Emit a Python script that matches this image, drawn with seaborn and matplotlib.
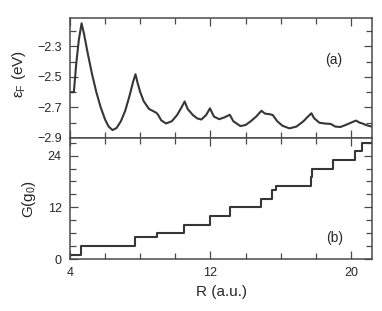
import numpy as np
import pandas as pd
import matplotlib
matplotlib.use('AGG')
import matplotlib.pyplot as plt
import seaborn as sns
from matplotlib.ticker import FixedLocator

# panel (a): Fermi energy vs R
r_eps = [4.0, 4.22, 4.35, 4.5, 4.66, 4.8, 5.0, 5.25, 5.5, 5.75, 6.0, 6.2, 6.42,
         6.65, 6.9, 7.15, 7.4, 7.6, 7.73, 7.85, 8.0, 8.2, 8.5, 8.9, 9.0, 9.2,
         9.47, 9.8, 10.1, 10.35, 10.53, 10.7, 11.0, 11.25, 11.48, 11.75, 11.97,
         12.2, 12.5, 12.8, 13.1, 13.3, 13.7, 14.0, 14.3, 14.6, 14.9, 15.1, 15.4,
         15.55, 15.8, 16.1, 16.5, 16.9, 17.3, 17.55, 17.75, 17.9, 18.2, 18.5,
         18.85, 19.1, 19.4, 19.8, 20.1, 20.29, 20.5, 20.66, 20.85, 21.2]
eps_f = [-2.60, -2.60, -2.42, -2.26, -2.15, -2.22, -2.34, -2.48, -2.60, -2.70,
         -2.78, -2.825, -2.848, -2.835, -2.79, -2.72, -2.62, -2.53, -2.483,
         -2.54, -2.60, -2.66, -2.71, -2.734, -2.745, -2.785, -2.805, -2.79,
         -2.75, -2.70, -2.661, -2.71, -2.75, -2.772, -2.779, -2.75, -2.706,
         -2.76, -2.777, -2.765, -2.748, -2.79, -2.822, -2.815, -2.79, -2.76,
         -2.722, -2.74, -2.745, -2.75, -2.79, -2.82, -2.837, -2.825, -2.79,
         -2.76, -2.738, -2.77, -2.80, -2.805, -2.808, -2.825, -2.828, -2.81,
         -2.795, -2.786, -2.80, -2.805, -2.815, -2.826]

# panel (b): conductance steps
r_g = [4.0, 4.63, 7.69, 8.98, 10.5, 12.0, 13.1, 14.9, 15.5, 15.75, 17.72,
       17.8, 18.96, 20.25, 20.65, 21.2]
g_vals = [1, 3, 5, 6, 8, 10, 12, 14, 16, 17, 19, 21, 23, 25, 27, 27]

sns.set_style('ticks')
plt.rcParams['font.family'] = ['Liberation Sans', 'DejaVu Sans']
plt.rcParams['mathtext.fontset'] = 'custom'
plt.rcParams['mathtext.rm'] = 'Liberation Sans'
plt.rcParams['mathtext.it'] = 'Liberation Sans'

linea = '#363636'
borde = '#4a4a4a'

fig = plt.figure(figsize=(3.82, 3.11), dpi=100)
W, H = 382, 311
ax1 = fig.add_axes([70 / W, (H - 138) / H, 302 / W, 120 / H])
ax2 = fig.add_axes([70 / W, (H - 259) / H, 302 / W, 121 / H], sharex=ax1)

datos_a = pd.DataFrame({'R': r_eps, 'E': eps_f})
datos_b = pd.DataFrame({'R': r_g, 'G': g_vals})

sns.lineplot(data=datos_a, x='R', y='E', ax=ax1, color=linea, lw=1.5)
sns.lineplot(data=datos_b, x='R', y='G', ax=ax2, color=linea, lw=1.5,
             drawstyle='steps-post')

ax1.set_xlim(4, 21.2)
ax1.set_ylim(-2.9, -2.115)
ax2.set_ylim(0, 28.1)

ax1.yaxis.set_major_locator(FixedLocator([-2.9, -2.7, -2.5, -2.3]))
ax1.yaxis.set_minor_locator(FixedLocator([-2.8, -2.6, -2.4, -2.2]))
ax2.yaxis.set_major_locator(FixedLocator([0, 12, 24]))
ax2.yaxis.set_minor_locator(FixedLocator([3, 6, 9, 15, 18, 21, 27]))
ax2.xaxis.set_major_locator(FixedLocator([4, 12, 20]))
ax2.xaxis.set_minor_locator(FixedLocator([6, 8, 10, 14, 16, 18]))
ax1.set_yticklabels(['−2.9', '−2.7', '−2.5', '−2.3'])

for ax in (ax1, ax2):
    ax.tick_params(which='both', direction='in', top=True, right=True,
                   color=borde, labelsize=9, pad=6, width=0.9)
    ax.tick_params(which='major', length=6)
    ax.tick_params(which='minor', length=4)
    for s in ax.spines.values():
        s.set_color(borde)
        s.set_linewidth(1.1)
    ax.set_xlabel('')
    ax.set_ylabel('')
ax1.tick_params(labelbottom=False)

ax1.set_ylabel('ε$_\\mathrm{F}$ (eV)', fontsize=11)
ax2.set_ylabel('G(g$_\\mathrm{0}$)', fontsize=11)
ax1.yaxis.set_label_coords(-0.14, 0.53)
ax2.yaxis.set_label_coords(-0.107, 0.5)
ax2.set_xlabel('R (a.u.)', fontsize=11, labelpad=4)

ax1.text(0.874, 0.65, '(a)', transform=ax1.transAxes, fontsize=10,
         ha='center', va='center')
ax2.text(0.877, 0.17, '(b)', transform=ax2.transAxes, fontsize=10,
         ha='center', va='center')

fig.savefig('out.png', dpi=100)
